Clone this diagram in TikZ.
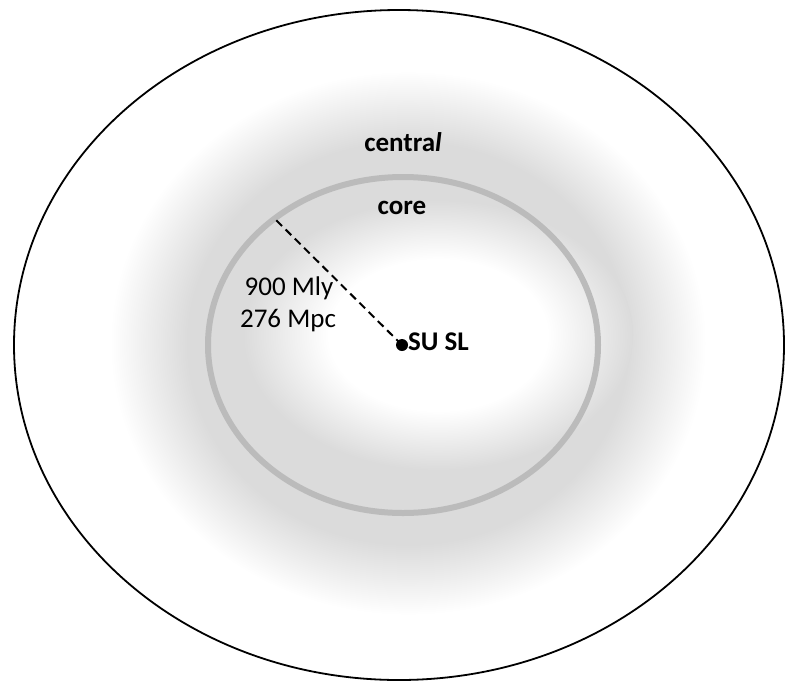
\documentclass[tikz,border=0pt]{standalone}
\usepackage{fontspec}
\setmainfont{Carlito}
\definecolor{halo}{HTML}{DBDBDB}
\definecolor{halomid}{HTML}{EDEDED}
\definecolor{ringgray}{HTML}{BBBBBB}
% soft grey band: solid inside, fading to white at the rim (25bp = path edge)
\pgfdeclareradialshading{grayhalo}{\pgfpoint{0bp}{0bp}}{%
  color(0bp)=(halo); color(18.5bp)=(halo); color(21.8bp)=(halomid);
  color(25bp)=(white); color(50bp)=(white)}
% clear white centre, blending into the grey band
\pgfdeclareradialshading{whitecore}{\pgfpoint{0bp}{0bp}}{%
  color(0bp)=(white); color(14bp)=(white); color(19.5bp)=(halomid);
  color(25bp)=(halo); color(50bp)=(halo)}
\tikzset{
  label/.style={font=\fontsize{27}{32}\selectfont, inner sep=0pt, anchor=base},
  boldlabel/.style={label, font=\fontsize{27}{32}\selectfont\bfseries},
}
\begin{document}
\begin{tikzpicture}[x=1pt, y=-1pt]
  \fill[white] (0,0) rectangle (786,683);
  \useasboundingbox (0,0) rectangle (786,683);
  % halo and clear centre
  \shade[shading=grayhalo] (408,343) ellipse [x radius=298pt, y radius=272pt];
  \shade[shading=whitecore] (438,335) ellipse [x radius=195pt, y radius=135pt];
  % outer boundary
  \draw[line width=1.8pt] (399,345) ellipse [x radius=385pt, y radius=335pt];
  % core boundary
  \draw[ringgray, line width=6pt] (403,345) ellipse [x radius=195pt, y radius=168pt];
  % centre point and radius
  \coordinate (rim) at (274,218);
  \node[circle, fill=black, inner sep=0pt, minimum size=12pt] (sun) at (402,345) {};
  \draw[line width=2pt, dash pattern=on 8pt off 5pt] (sun.center) -- (rim);
  % labels
  \node[boldlabel] (central) at (403,151) {centra\textit{l}};
  \node[boldlabel] (core) at (402,214) {core};
  \node[label] (mly) at (289,295) {900 Mly};
  \node[label] (mpc) at (288,327) {276 Mpc};
  \node[boldlabel, anchor=base west] (susl) at (408,350) {SU SL};
\end{tikzpicture}
\end{document}
